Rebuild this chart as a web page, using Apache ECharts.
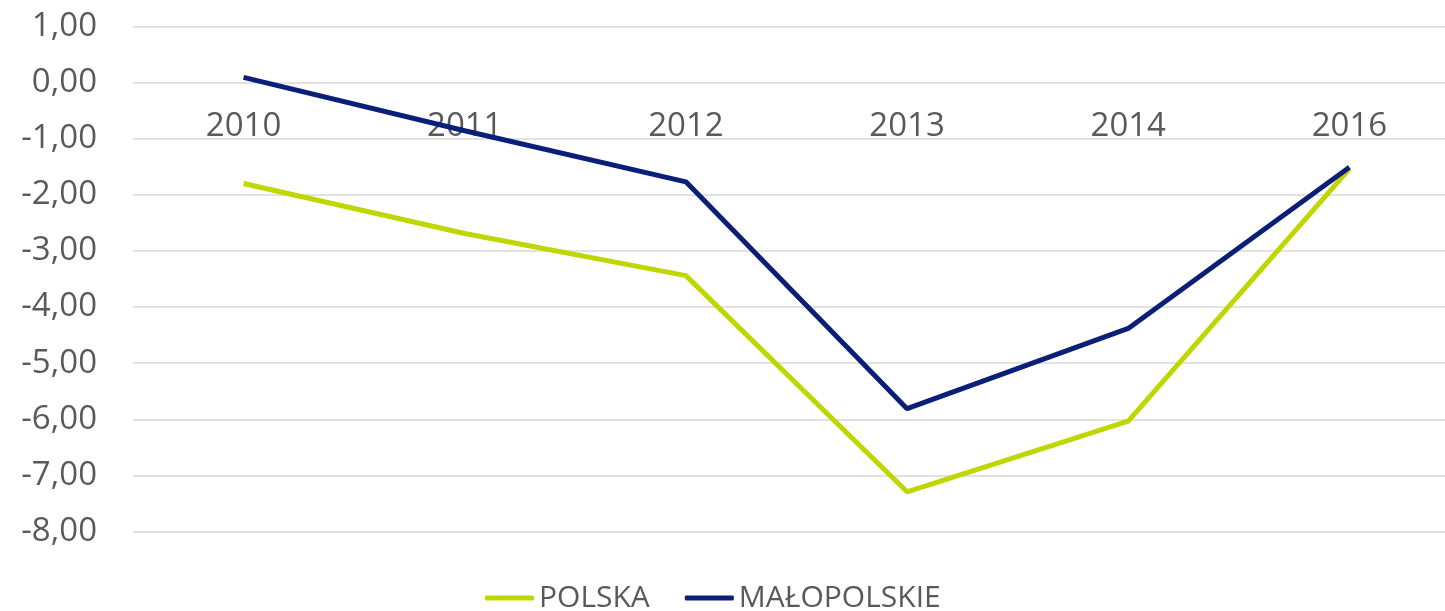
<!DOCTYPE html>
<html>
<head>
<meta charset="utf-8">
<script src="https://cdn.jsdelivr.net/npm/echarts@6/dist/echarts.min.js"></script>
<style>
html,body{margin:0;padding:0;background:#fff;}
#chart{width:1445px;height:611px;}
</style>
</head>
<body>
<div id="chart"></div>
<script>
const categories = ['2010', '2011', '2012', '2013', '2014', '2016'];
const polska = [-1.80, -2.69, -3.44, -7.29, -6.03, -1.54];
const malopolskie = [0.09, -0.86, -1.77, -5.81, -4.38, -1.51];
const seriesNames = ['POLSKA', 'MAŁOPOLSKIE'];
const yMin = -8, yMax = 1, yInterval = 1;

const textColor = '#595959';
const fontFamily = '"Open Sans", "Noto Sans", sans-serif';

const chart = echarts.init(document.getElementById('chart'), null, {renderer: 'canvas'});
chart.setOption({
  animation: false,
  backgroundColor: '#fff',
  grid: {left: 133, width: 1327, top: 26.3, height: 505.4, containLabel: false, outerBoundsMode: 'none'},
  legend: {
    data: seriesNames,
    bottom: -7,
    left: 480,
    itemWidth: 49,
    itemHeight: 5,
    itemGap: 35,
    icon: 'roundRect',
    textStyle: {color: textColor, fontSize: 30, fontFamily: fontFamily}
  },
  xAxis: {
    type: 'category',
    data: categories,
    position: 'top',
    boundaryGap: true,
    axisLine: {show: false},
    axisTick: {show: false},
    axisLabel: {color: textColor, fontSize: 33, fontFamily: fontFamily, inside: true, margin: 84},
    splitLine: {show: false}
  },
  yAxis: {
    type: 'value',
    min: yMin,
    max: yMax,
    interval: yInterval,
    axisLine: {show: false},
    axisTick: {show: false},
    axisLabel: {
      color: textColor, fontSize: 33, fontFamily: fontFamily, margin: 36,
      formatter: v => v.toFixed(2).replace('.', ',')
    },
    splitLine: {lineStyle: {color: '#d9d9d9', width: 1.5}}
  },
  series: [
    {
      name: seriesNames[0], type: 'line', data: polska,
      symbol: 'none', lineStyle: {color: '#bfd600', width: 5}, itemStyle: {color: '#bfd600'}
    },
    {
      name: seriesNames[1], type: 'line', data: malopolskie,
      symbol: 'none', lineStyle: {color: '#0b1f78', width: 5}, itemStyle: {color: '#0b1f78'}
    }
  ]
});
</script>
</body>
</html>
